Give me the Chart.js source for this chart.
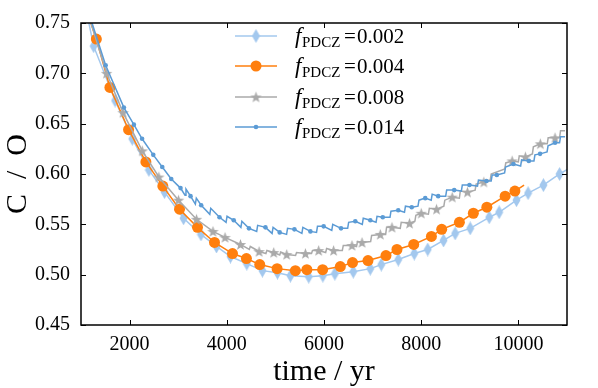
<!DOCTYPE html>
<html>
<head>
<meta charset="utf-8">
<script src="https://cdn.jsdelivr.net/npm/chart.js@4.4.1/dist/chart.umd.min.js"></script>
<style>
  html, body { margin: 0; padding: 0; background: #fff; }
</style>
</head>
<body>
<canvas id="chart" width="598" height="388"></canvas>
<script>
// axis ticks
const xTicks = [2000, 4000, 6000, 8000, 10000];
const yTicks = [0.45, 0.50, 0.55, 0.60, 0.65, 0.70, 0.75];
const legendValues = ['0.002', '0.004', '0.008', '0.014'];

// f_PDCZ = 0.002 (diamonds)
const t002 = [1260, 1702, 2055, 2397, 2719, 3110, 3469, 3788, 4076, 4411, 4733, 5042, 5309, 5685, 5976, 6223,
  6603, 6952, 7179, 7528, 7857, 8134, 8459, 8699, 9008, 9399, 9604, 9960, 10200, 10514, 10847];
const co002 = [0.727, 0.673, 0.635, 0.604, 0.582, 0.556, 0.540, 0.528, 0.518, 0.511, 0.504, 0.502, 0.499, 0.498, 0.499, 0.501,
  0.503, 0.506, 0.510, 0.515, 0.521, 0.525, 0.534, 0.541, 0.546, 0.557, 0.562, 0.574, 0.581, 0.589, 0.600];
const t002Line = [1120, 11100];
const co002Line = [0.760, 0.607];

// f_PDCZ = 0.004 (circles)
const t004 = [1316, 1595, 1979, 2335, 2684, 3027, 3397, 3747, 4117, 4404, 4678, 5035, 5411, 5648, 5972, 6336,
  6587, 6905, 7275, 7501, 7846, 8210, 8422, 8786, 9073, 9351, 9727, 9928];
const co004 = [0.734, 0.686, 0.644, 0.612, 0.588, 0.565, 0.547, 0.532, 0.521, 0.516, 0.510, 0.506, 0.504, 0.505, 0.505, 0.508,
  0.512, 0.514, 0.519, 0.525, 0.530, 0.538, 0.545, 0.552, 0.561, 0.567, 0.578, 0.583];
const t004Line = [1130, 10117];
const co004Line = [0.760, 0.589];

// f_PDCZ = 0.008 (stars)
const t008 = [1527, 1866, 2261, 2602, 3007, 3377, 3716, 3963, 4281, 4665, 4965, 5233, 5617, 5890, 6198, 6576,
  6782, 7158, 7398, 7760, 8001, 8315, 8638, 8952, 9289, 9871, 10144, 10452, 10754];
const co008 = [0.700, 0.661, 0.623, 0.597, 0.574, 0.555, 0.543, 0.537, 0.530, 0.523, 0.522, 0.520, 0.521, 0.524, 0.524, 0.529,
  0.532, 0.540, 0.547, 0.551, 0.561, 0.565, 0.577, 0.582, 0.592, 0.613, 0.617, 0.630, 0.636];
// extra line vertices: ends of the curve and the low/high corners of each pulse step
const t008Line = [1140, 10960,
  4463, 4483, 4805, 4825, 5089, 5109, 5415, 5435, 5743, 5763, 6034, 6054, 6377, 6397, 6669, 6689,
  6960, 6980, 7268, 7288, 7569, 7589, 7870, 7890, 8148, 8168, 8466, 8486, 8785, 8805, 9110, 9130,
  9420, 9440, 9720, 9740, 9998, 10018, 10288, 10308, 10593, 10613, 10847, 10867];
const co008Line = [0.760, 0.643,
  0.525, 0.528, 0.521, 0.524, 0.5195, 0.5225, 0.519, 0.522, 0.521, 0.524, 0.522, 0.526, 0.524, 0.529, 0.528, 0.533,
  0.533, 0.539, 0.540, 0.547, 0.546, 0.552, 0.553, 0.559, 0.560, 0.566, 0.568, 0.574, 0.576, 0.583, 0.584, 0.590,
  0.594, 0.600, 0.605, 0.611, 0.612, 0.618, 0.620, 0.627, 0.630, 0.636, 0.636, 0.643];

// f_PDCZ = 0.014 (small dots)
const t014 = [1507, 1883, 2088, 2257, 2487, 2672, 2857, 3048, 3254, 3473, 3850, 4143, 4456, 4795, 5089, 5391,
  5720, 5993, 6350, 6644, 6953, 7209, 7528, 7805, 8083, 8350, 8679, 8993, 9343, 9556, 9897, 10215, 10446, 10754];
const co014 = [0.708, 0.666, 0.649, 0.635, 0.619, 0.607, 0.595, 0.586, 0.578, 0.569, 0.557, 0.554, 0.546, 0.547, 0.542, 0.545,
  0.543, 0.548, 0.546, 0.553, 0.554, 0.557, 0.564, 0.567, 0.576, 0.578, 0.584, 0.589, 0.593, 0.599, 0.610, 0.613, 0.620, 0.631];
const t014Line = [1160, 10960,
  3140, 3160, 3353, 3373, 3650, 3670, 3985, 4005, 4290, 4310, 4615, 4635, 4932, 4952, 5230, 5250,
  5545, 5565, 5846, 5866, 6160, 6180, 6487, 6507, 6788, 6808, 7071, 7091, 7358, 7378, 7656, 7676,
  7934, 7954, 8206, 8226, 8504, 8524, 8826, 8846, 9158, 9178, 9440, 9460, 9716, 9736, 10046, 10066,
  10320, 10340, 10590, 10610, 10847, 10867];
const co014Line = [0.760, 0.637,
  0.579, 0.585, 0.570, 0.576, 0.560, 0.566, 0.552, 0.558, 0.547, 0.553, 0.543, 0.549, 0.541, 0.547, 0.540, 0.546,
  0.541, 0.547, 0.542, 0.548, 0.544, 0.550, 0.546, 0.552, 0.550, 0.556, 0.552, 0.558, 0.557, 0.563, 0.562, 0.568,
  0.568, 0.574, 0.574, 0.580, 0.578, 0.584, 0.583, 0.589, 0.588, 0.594, 0.593, 0.599, 0.601, 0.607, 0.608, 0.614,
  0.613, 0.619, 0.622, 0.628, 0.631, 0.637];

const SERIF = '"Liberation Serif", "DejaVu Serif", serif';
const colLight = '#a3c8ee';
const colOrange = '#ff7f0e';
const colGray = '#aaaaaa';
const colBlue = '#5b9bd5';

function toPoints(ts, cs) {
  return ts.map((t, i) => ({ x: t, y: cs[i] }));
}
function linePoints(ts, cs, extraT, extraC) {
  return toPoints(ts.concat(extraT), cs.concat(extraC)).sort((a, b) => a.x - b.x);
}

// marker images (matplotlib style thin diamond and filled star)
function thinDiamond(color) {
  const c = document.createElement('canvas');
  c.width = 9; c.height = 14;
  const g = c.getContext('2d');
  g.fillStyle = color;
  g.beginPath();
  g.moveTo(4.5, 0); g.lineTo(8.5, 7); g.lineTo(4.5, 14); g.lineTo(0.5, 7);
  g.closePath(); g.fill();
  return c;
}
function star(color) {
  const c = document.createElement('canvas');
  c.width = 13; c.height = 13;
  const g = c.getContext('2d');
  g.fillStyle = color;
  g.beginPath();
  for (let i = 0; i < 10; i++) {
    const r = i % 2 === 0 ? 6 : 2.4;
    const a = -Math.PI / 2 + i * Math.PI / 5;
    const px = 6.5 + r * Math.cos(a), py = 7 + r * Math.sin(a);
    if (i === 0) g.moveTo(px, py); else g.lineTo(px, py);
  }
  g.closePath(); g.fill();
  return c;
}
const diamondImg = thinDiamond(colLight);
const starImg = star(colGray);

function lineSet(data, color, order) {
  return { data, borderColor: color, borderWidth: 1.5, pointRadius: 0, fill: false,
    tension: 0, order, showLine: true };
}
function markSet(data, color, style, radius, order) {
  return { data, showLine: false, pointStyle: style, pointRadius: radius, pointHoverRadius: radius,
    backgroundColor: color, borderColor: color, borderWidth: 0, order };
}

const legendItems = [
  { color: colLight, style: diamondImg, r: 0 },
  { color: colOrange, style: 'circle', r: 5.5 },
  { color: colGray, style: starImg, r: 0 },
  { color: colBlue, style: 'circle', r: 2.3 }
];

const framePlugin = {
  id: 'frame',
  afterDraw(chart) {
    const { ctx, chartArea: a, scales } = chart;
    ctx.save();
    ctx.strokeStyle = '#000';
    ctx.lineWidth = 1;
    ctx.beginPath();
    xTicks.forEach(v => {
      const px = Math.round(scales.x.getPixelForValue(v)) + 0.5;
      ctx.moveTo(px, a.bottom); ctx.lineTo(px, a.bottom - 5);
      ctx.moveTo(px, a.top); ctx.lineTo(px, a.top + 5);
    });
    yTicks.forEach(v => {
      const py = Math.round(scales.y.getPixelForValue(v)) + 0.5;
      ctx.moveTo(a.left, py); ctx.lineTo(a.left + 5, py);
      ctx.moveTo(a.right, py); ctx.lineTo(a.right - 5, py);
    });
    ctx.stroke();
    ctx.lineWidth = 1.5;
    ctx.strokeRect(a.left, a.top, a.right - a.left, a.bottom - a.top);

    // legend
    const rowY = [36, 66, 97, 127];
    legendItems.forEach((it, i) => {
      const y = rowY[i];
      ctx.strokeStyle = it.color;
      ctx.lineWidth = 1.5;
      ctx.beginPath(); ctx.moveTo(235, y); ctx.lineTo(277, y); ctx.stroke();
      ctx.fillStyle = it.color;
      if (it.style === 'circle') {
        ctx.beginPath(); ctx.arc(256, y, it.r, 0, Math.PI * 2); ctx.fill();
      } else {
        ctx.drawImage(it.style, 256 - it.style.width / 2, y - it.style.height / 2);
      }
      ctx.fillStyle = '#000';
      ctx.textBaseline = 'alphabetic';
      const base = y + 6.5;
      ctx.font = 'italic 23px ' + SERIF;
      ctx.fillText('f', 295, base);
      ctx.font = '15px ' + SERIF;
      ctx.fillText('PDCZ', 302, base + 4);
      ctx.font = '21px ' + SERIF;
      ctx.fillText('=', 344, base);
      ctx.fillText(legendValues[i], 357, base);
    });
    ctx.restore();
  }
};

new Chart(document.getElementById('chart'), {
  type: 'scatter',
  data: {
    datasets: [
      lineSet(linePoints(t002, co002, t002Line, co002Line), colLight, 8),
      markSet(toPoints(t002, co002), colLight, diamondImg, 7, 7),
      lineSet(linePoints(t004, co004, t004Line, co004Line), colOrange, 6),
      markSet(toPoints(t004, co004), colOrange, 'circle', 5.5, 5),
      lineSet(linePoints(t008, co008, t008Line, co008Line), colGray, 4),
      markSet(toPoints(t008, co008), colGray, starImg, 6, 3),
      lineSet(linePoints(t014, co014, t014Line, co014Line), colBlue, 2),
      markSet(toPoints(t014, co014), colBlue, 'circle', 2.3, 1)
    ]
  },
  options: {
    responsive: false,
    animation: false,
    devicePixelRatio: 1,
    layout: { padding: { top: 9, right: 31, left: 0, bottom: 0 }, autoPadding: false },
    plugins: { legend: { display: false }, tooltip: { enabled: false } },
    scales: {
      x: {
        type: 'linear', min: 1000, max: 11000,
        afterBuildTicks: s => { s.ticks = xTicks.map(v => ({ value: v })); },
        afterFit: s => { s.height = 63; },
        grid: { display: false, drawTicks: false },
        border: { display: false },
        ticks: { color: '#000', font: { family: SERIF, size: 20 }, padding: 8, maxRotation: 0,
          callback: v => String(v) },
        title: { display: true, text: 'time / yr', color: '#000',
          font: { family: SERIF, size: 30, lineHeight: 1 }, padding: { top: 0, bottom: 1 } }
      },
      y: {
        type: 'linear', min: 0.45, max: 0.75,
        afterBuildTicks: s => { s.ticks = yTicks.map(v => ({ value: v })); },
        afterFit: s => { s.width = 81; },
        grid: { display: false, drawTicks: false },
        border: { display: false },
        ticks: { color: '#000', font: { family: SERIF, size: 20 }, padding: 11,
          callback: v => v.toFixed(2) },
        title: { display: true, text: 'C  /  O', color: '#000',
          font: { family: SERIF, size: 30, lineHeight: 1 }, padding: { top: 3, bottom: 0 } }
      }
    }
  },
  plugins: [framePlugin]
});
</script>
</body>
</html>
